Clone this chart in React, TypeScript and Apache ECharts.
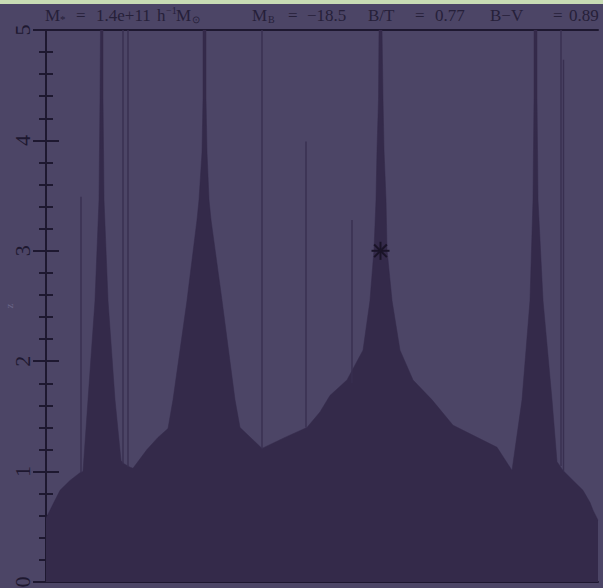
import React, { useEffect, useRef } from "react";
import * as echarts from "echarts";

// Top boundary of the merger-tree silhouette: horizontal position and redshift z
const boundaryX = [0, 4, 9, 14, 24, 34, 37, 42, 49, 53, 54, 54.5, 57, 57, 58, 62, 69, 75, 78, 84, 87, 101, 112, 122, 127, 141, 151, 153, 156, 157, 157, 160, 160, 161, 163, 165, 176, 189, 194, 216, 239, 261, 274, 284, 301, 317, 324, 328, 330, 331, 332.5, 333, 336, 337, 338, 340, 341, 346, 354, 367, 386, 407, 451, 466, 476, 484, 487, 488, 488, 491, 491, 492, 497, 506, 511, 517, 527, 537, 544, 547, 552];
const boundaryZ = [0.58, 0.65, 0.74, 0.83, 0.92, 0.99, 1.0, 1.65, 2.55, 3.46, 4.37, 5.0, 5.0, 4.37, 3.46, 2.55, 1.65, 1.1, 1.07, 1.04, 1.03, 1.2, 1.31, 1.39, 1.65, 2.55, 3.28, 3.46, 3.89, 4.37, 5, 5, 4.37, 3.89, 3.46, 3.28, 2.55, 1.65, 1.4, 1.21, 1.31, 1.4, 1.54, 1.69, 1.83, 2.1, 2.55, 3.01, 3.46, 3.91, 4.37, 5, 5, 4.37, 3.91, 3.46, 3.01, 2.55, 2.1, 1.83, 1.65, 1.42, 1.22, 1.01, 1.65, 2.55, 3.46, 4.37, 5, 5, 4.37, 3.46, 2.55, 1.65, 1.09, 1.01, 0.92, 0.83, 0.72, 0.65, 0.56];

// Thin progenitor branches: position, top z, bottom z
const branchX = [35, 77, 82, 216, 260, 306, 515, 517.5];
const branchTop = [3.49, 5, 5, 5, 3.99, 3.28, 5, 4.73];
const branchBottom = [0.99, 1.07, 1.04, 1.21, 1.4, 1.8, 1.05, 1.0];

// Marked galaxy
const markerX = [334.5];
const markerZ = [3.0];

const yTicks = [0, 1, 2, 3, 4, 5];

const BG = "#4c4566";
const FILL = "#342a4a";
const AXIS = "#1e1830";
const TEXT = "#262039";

export default function App() {
  const ref = useRef<HTMLDivElement>(null);
  useEffect(() => {
    const chart = echarts.init(ref.current!, null, { renderer: "svg" });
    const font = "Liberation Serif";
    const t = (x: number, y: number, text: string, size = 17) => ({
      type: "text",
      x,
      y,
      style: { text, fill: TEXT, font: `${size}px "${font}"`, textVerticalAlign: "middle" },
      silent: true,
    });
    const axisCommon = {
      type: "value",
      min: yTicks[0],
      max: yTicks[yTicks.length - 1],
      interval: 1,
      axisLine: { show: true, lineStyle: { color: AXIS, width: 2 } },
      axisTick: { show: true, inside: true, length: 13, lineStyle: { color: AXIS, width: 2 } },
      minorTick: { show: true, splitNumber: 5, length: 7, lineStyle: { color: AXIS, width: 2 } },
      splitLine: { show: false },
    };
    chart.setOption({
      animation: false,
      backgroundColor: BG,
      grid: { left: 46, right: 5, top: 30, bottom: 6, containLabel: false, outerBoundsMode: "none" },
      graphic: [
        { type: "rect", shape: { x: 0, y: 0, width: 603, height: 4 }, style: { fill: "#c8dcb4" }, silent: true },
        t(45, 15, "M"),
        t(60, 19, "*", 11),
        t(76, 15, "="),
        t(96, 15, "1.4e+11"),
        t(157, 15, "h"),
        t(166, 10, "−1", 10),
        t(176, 15, "M"),
        t(192, 19, "⊙", 10),
        t(252, 15, "M"),
        t(268, 19, "B", 10),
        t(288, 15, "="),
        t(307, 15, "−18.5"),
        t(368, 15, "B/T"),
        t(415, 15, "="),
        t(435, 15, "0.77"),
        t(490, 15, "B−V"),
        t(553, 15, "="),
        t(569, 15, "0.89"),
      ],
      xAxis: [
        {
          type: "value", min: 0, max: 552, position: "bottom",
          axisLine: { show: true, onZero: false, lineStyle: { color: AXIS, width: 2 } },
          axisTick: { show: false }, axisLabel: { show: false }, splitLine: { show: false },
        },
        {
          type: "value", min: 0, max: 552, position: "top",
          axisLine: { show: true, onZero: false, lineStyle: { color: AXIS, width: 2 } },
          axisTick: { show: false }, axisLabel: { show: false }, splitLine: { show: false },
        },
      ],
      yAxis: [
        {
          ...axisCommon,
          position: "left",
          name: "z",
          nameLocation: "middle",
          nameGap: 32,
          nameMoveOverlap: false,
          nameRotate: 90,
          nameTextStyle: { color: "#6a6588", fontSize: 11, fontFamily: font },
          axisLabel: { show: true, rotate: 90, fontSize: 22, fontFamily: font, color: AXIS, margin: 13 },
        },
        {
          ...axisCommon,
          position: "right",
          axisLabel: { show: false },
        },
      ],
      series: [
        {
          type: "line",
          data: boundaryX.map((x, i) => [x, boundaryZ[i]]),
          showSymbol: false,
          smooth: false,
          lineStyle: { width: 0.5, color: FILL },
          areaStyle: { color: FILL, opacity: 1 },
          silent: true,
          z: 2,
        },
        {
          type: "custom",
          data: branchX.map((x, i) => [x, branchTop[i], branchBottom[i]]),
          renderItem: (_p: any, api: any) => {
            const a = api.coord([api.value(0), api.value(1)]);
            const b = api.coord([api.value(0), api.value(2)]);
            return {
              type: "line",
              shape: { x1: a[0], y1: a[1], x2: b[0], y2: b[1] },
              style: { stroke: "#382f50", lineWidth: 1.4 },
            };
          },
          silent: true,
          z: 3,
        },
        {
          type: "custom",
          data: markerX.map((x, i) => [x, markerZ[i]]),
          renderItem: (_p: any, api: any) => {
            const c = api.coord([api.value(0), api.value(1)]);
            const r = 9;
            const children = [0, 45, 90, 135].map((deg) => {
              const a = (deg * Math.PI) / 180;
              return {
                type: "line",
                shape: {
                  x1: c[0] - r * Math.cos(a), y1: c[1] - r * Math.sin(a),
                  x2: c[0] + r * Math.cos(a), y2: c[1] + r * Math.sin(a),
                },
                style: { stroke: "#1a1428", lineWidth: 2 },
              };
            });
            return { type: "group", children };
          },
          silent: true,
          z: 4,
        },
      ],
    });
    return () => chart.dispose();
  }, []);
  return <div ref={ref} style={{ position: "fixed", left: 0, top: 0, width: 603, height: 588 }} />;
}
